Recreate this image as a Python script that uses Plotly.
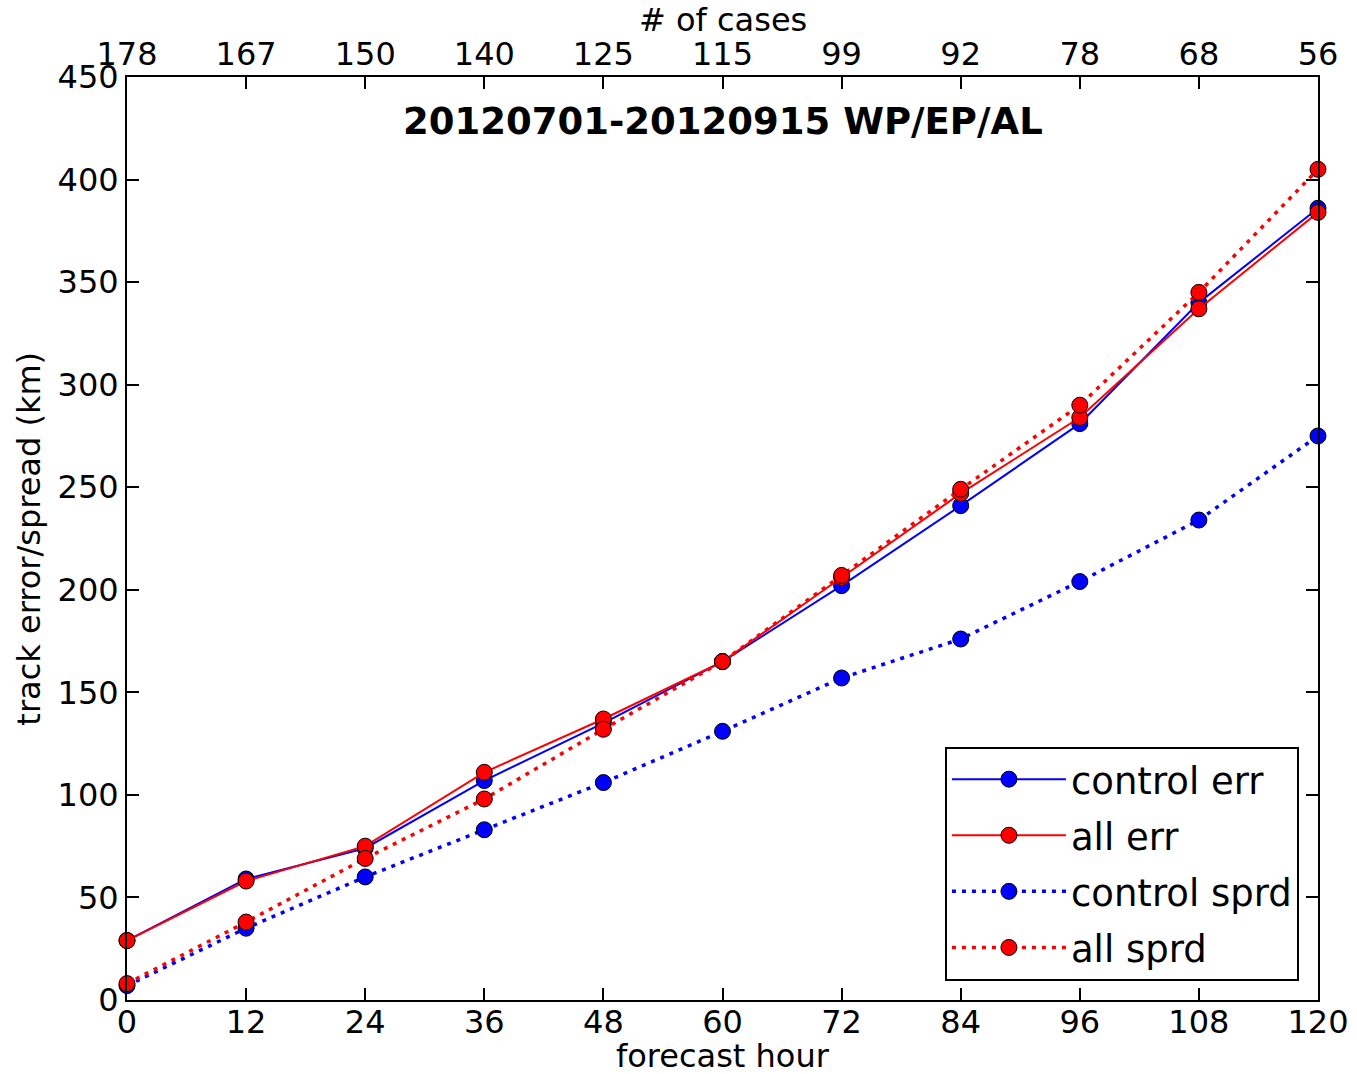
import plotly.graph_objects as go

# forecast lead times (h) and number of verified cases at each lead
hours = [0, 12, 24, 36, 48, 60, 72, 84, 96, 108, 120]
n_cases = ["178", "167", "150", "140", "125", "115", "99", "92", "78", "68", "56"]

# track error and ensemble spread (km)
control_err = [29, 59, 74, 107, 135, 165, 202, 241, 281, 340, 386]
all_err = [29, 58, 75, 111, 137, 165, 206, 247, 284, 337, 384]
control_sprd = [7, 35, 60, 83, 106, 131, 157, 176, 204, 234, 275]
all_sprd = [8, 38, 69, 98, 132, 165, 207, 249, 290, 345, 405]

title_text = "20120701-20120915 WP/EP/AL"
y_ticks = [0, 50, 100, 150, 200, 250, 300, 350, 400, 450]

BLUE = "#0000ff"
RED = "#ff0000"
FONT = "DejaVu Sans"

series = [
    ("control err", control_err, BLUE, "solid", 2),
    ("all err", all_err, RED, "solid", 2),
    ("control sprd", control_sprd, BLUE, "4px,6px", 3.5),
    ("all sprd", all_sprd, RED, "4px,6px", 3.5),
]

fig = go.Figure()
for name, vals, color, dash, width in series:
    fig.add_trace(go.Scatter(
        x=hours, y=vals, name=name, legendgroup=name, mode="lines+markers",
        line=dict(color=color, width=width, dash=dash),
        marker=dict(size=16, color=color, line=dict(color="black", width=1)),
        cliponaxis=False,
    ))

# invisible companion trace so the top (case count) axis is rendered
fig.add_trace(go.Scatter(
    x=hours, y=control_err, xaxis="x2", mode="markers",
    marker=dict(opacity=0), showlegend=False, hoverinfo="skip",
))

axis_common = dict(
    showgrid=False, zeroline=False, showline=True, linecolor="black",
    linewidth=2, ticks="inside", ticklen=12, tickwidth=1.5, tickcolor="black",
    tickfont=dict(family=FONT, size=32, color="black"), automargin=False,
)

label_font = dict(family=FONT, size=32, color="black")

fig.update_layout(
    width=1357, height=1074,
    margin=dict(l=127, r=39, t=77, b=74),
    paper_bgcolor="white", plot_bgcolor="white",
    font=dict(family=FONT, color="black"),
    xaxis=dict(
        range=[0, 120], tickvals=hours, ticktext=[str(h) for h in hours],
        mirror=True, ticklabelstandoff=-7,
        **axis_common,
    ),
    xaxis2=dict(
        range=[0, 120], overlaying="x", side="top", tickvals=hours,
        ticktext=n_cases, ticklabelstandoff=-3,
        **axis_common,
    ),
    yaxis=dict(
        range=[0, 450], tickvals=y_ticks, mirror="ticks",
        **axis_common,
    ),
    legend=dict(
        x=0.984, y=0.021, xanchor="right", yanchor="bottom",
        bordercolor="black", borderwidth=2, bgcolor="white",
        font=dict(family=FONT, size=37, color="black"),
        traceorder="grouped", tracegroupgap=5, itemwidth=114,
    ),
    annotations=[
        dict(text="<b>" + title_text + "</b>", xref="paper", yref="paper",
             x=0.5, y=0.952, xanchor="center", yanchor="middle", showarrow=False,
             font=dict(family=FONT, size=37, color="black")),
        dict(text="forecast hour", xref="paper", yref="paper",
             x=0.5, y=-0.061, xanchor="center", yanchor="middle", showarrow=False,
             font=label_font),
        dict(text="# of cases", xref="paper", yref="paper",
             x=0.5, y=1.062, xanchor="center", yanchor="middle", showarrow=False,
             font=label_font),
        dict(text="track error/spread (km)", xref="paper", yref="paper",
             x=-0.083, y=0.5, xanchor="center", yanchor="middle", showarrow=False,
             textangle=-90, font=label_font),
    ],
    showlegend=True,
)

fig.write_html("out.html")
